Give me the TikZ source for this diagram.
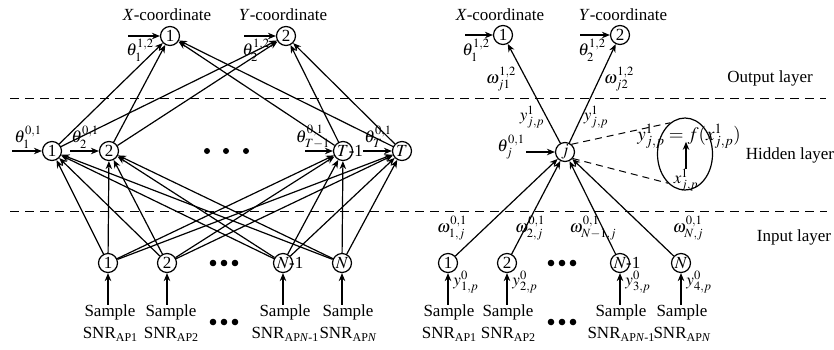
\documentclass[tikz,border=0pt]{standalone}
\usepackage{mathptmx}
\usepackage{fontspec}
\setmainfont{Liberation Serif}
\usetikzlibrary{arrows.meta,shapes.geometric}
\newcommand\apsub[1]{\raisebox{-0.35ex}{\fontsize{12}{12}\selectfont #1}}
\begin{document}
\begin{tikzpicture}[x=1pt,y=-1pt,
  every node/.style={font=\fontsize{17}{20}\selectfont},
  neuron/.style={circle,draw,line width=1.2pt,minimum size=19pt,inner sep=0pt},
  conn/.style={line width=1.2pt,-{Stealth[length=8pt,width=6.5pt]}},
  samp/.style={align=center,inner sep=0pt,font=\fontsize{17}{22}\selectfont},
  sep/.style={dashed,dash pattern=on 9pt off 6pt,line width=1pt},
  lbl/.style={inner sep=0pt},
  bigdot/.style={fill=black}]
\useasboundingbox (0,0) rectangle (834,349);

% dashed layer separators
\coordinate (d1a) at (10,98);  \coordinate (d1b) at (826,98);
\coordinate (d2a) at (10,211); \coordinate (d2b) at (827,211);
\draw[sep] (d1a) -- (d1b);
\draw[sep] (d2a) -- (d2b);

% ================= LEFT NETWORK =================
\node[neuron] (o1) at (170,36) {1};
\node[neuron] (o2) at (286,36) {2};
\node[lbl] at (167,15) {\textit{X}-coordinate};
\node[lbl] at (283,15) {\textit{Y}-coordinate};
\coordinate (bo1) at (128,36); \coordinate (bo2) at (244,36);
\draw[conn] (bo1) -- (o1);
\draw[conn] (bo2) -- (o2);
\node[lbl] at (140,50) {$\theta^{1,2}_1$};
\node[lbl] at (256,50) {$\theta^{1,2}_2$};

\node[neuron] (h1) at (52,151) {1};
\node[neuron] (h2) at (109,151) {2};
\node[neuron] (h3) at (343,151) {$T$\rlap{-1}};
\node[neuron] (h4) at (402,151) {$T$};
\foreach \x in {207,226,246} \fill[bigdot] (\x,151) circle (3pt);
\coordinate (bh1) at (12,151); \coordinate (bh2) at (70,151);
\coordinate (bh3) at (305,151); \coordinate (bh4) at (363,151);
\draw[conn] (bh1) -- (h1);
\draw[conn] (bh2) -- (h2);
\draw[conn] (bh3) -- (h3);
\draw[conn] (bh4) -- (h4);
\node[lbl] at (28,137) {$\theta^{0,1}_1$};
\node[lbl] at (85,137) {$\theta^{0,1}_2$};
\node[lbl] at (313,137) {$\theta^{0,1}_{T-1}$};
\node[lbl] at (378,137) {$\theta^{0,1}_T$};

\node[neuron] (i1) at (108,263) {1};
\node[neuron] (i2) at (167,263) {2};
\node[neuron] (i3) at (283,263) {$N$\rlap{-1}};
\node[neuron] (i4) at (342,263) {$N$};
\foreach \x in {213,224,235} \fill[bigdot] (\x,263) circle (3.3pt);

\node[samp] (s1) at (110,323) {Sample\\SNR\apsub{AP1}};
\node[samp] (s2) at (171,323) {Sample\\SNR\apsub{AP2}};
\node[samp] (s3) at (285,323) {Sample\\SNR\apsub{AP\textit{N}-1}};
\node[samp] (s4) at (348,323) {Sample\\SNR\apsub{AP\textit{N}}};
\foreach \x in {213,224,235} \fill[bigdot] (\x,322) circle (3.3pt);
\foreach \k in {1,2,3,4} \draw[conn] (s\k.north -| i\k) -- (i\k);

\foreach \a in {1,2,3,4} \foreach \b in {1,2,3,4} \draw[conn] (i\a) -- (h\b);
\foreach \a in {1,2,3,4} \foreach \b in {1,2} \draw[conn] (h\a) -- (o\b);

% ================= RIGHT NETWORK =================
\node[neuron] (ro1) at (503,35) {1};
\node[neuron] (ro2) at (620,35) {2};
\node[lbl] at (500,15) {\textit{X}-coordinate};
\node[lbl] at (623,15) {\textit{Y}-coordinate};
\coordinate (rbo1) at (465,35); \coordinate (rbo2) at (580,35);
\draw[conn] (rbo1) -- (ro1);
\draw[conn] (rbo2) -- (ro2);
\node[lbl] at (476,50) {$\theta^{1,2}_1$};
\node[lbl] at (592,50) {$\theta^{1,2}_2$};

\node[neuron] (j) at (565,152) {$j$};
\coordinate (bj) at (526,152);
\draw[conn] (bj) -- (j);
\node[lbl] at (511,147) {$\theta^{0,1}_j$};
\draw[conn] (j) -- (ro1);
\draw[conn] (j) -- (ro2);
\node[lbl] at (501,79) {$\omega^{1,2}_{j1}$};
\node[lbl] at (619,79) {$\omega^{1,2}_{j2}$};
\node[lbl] at (532,117) {$y^{1}_{j,p}$};
\node[lbl] at (596,117) {$y^{1}_{j,p}$};

\node[draw,ellipse,line width=1.2pt,minimum width=55pt,minimum height=72pt,inner sep=0pt] (ell) at (685,154) {};
\node[lbl,font=\fontsize{19}{21}\selectfont] (fx) at (689,136) {$y^{1}_{j,p}=f(x^{1}_{j,p})$};
\node[lbl] (xin) at (686,180) {$x^{1}_{j,p}$};
\draw[conn] (xin.north) -- ++(0,-27);
\draw[sep,dash pattern=on 7pt off 5pt] (j.50) -- (ell.115);
\draw[sep,dash pattern=on 7pt off 5pt] (j.-40) -- (ell.240);

\node[lbl] at (770,78) {Output layer};
\node[lbl] at (790,155) {Hidden layer};
\node[lbl] at (794,237) {Input layer};

\node[neuron] (ri1) at (448,263) {1};
\node[neuron] (ri2) at (507,263) {2};
\node[neuron] (ri3) at (620,263) {$N$\rlap{-1}};
\node[neuron] (ri4) at (681,263) {$N$};
\foreach \x in {551,562,573} \fill[bigdot] (\x,263) circle (3.3pt);
\foreach \k in {1,2,3,4} \draw[conn] (ri\k) -- (j);
\node[lbl] at (452,228) {$\omega^{0,1}_{1,j}$};
\node[lbl] at (530,228) {$\omega^{0,1}_{2,j}$};
\node[lbl] at (593,228) {$\omega^{0,1}_{N-1,j}$};
\node[lbl] at (688,228) {$\omega^{0,1}_{N,j}$};

\node[samp] (rs1) at (449,323) {Sample\\SNR\apsub{AP1}};
\node[samp] (rs2) at (508,323) {Sample\\SNR\apsub{AP2}};
\node[samp] (rs3) at (621,323) {Sample\\SNR\apsub{AP\textit{N}-1}};
\node[samp] (rs4) at (682,323) {Sample\\SNR\apsub{AP\textit{N}}};
\foreach \x in {551,562,573} \fill[bigdot] (\x,322) circle (3.3pt);
\foreach \k in {1,2,3,4} \draw[conn] (rs\k.north -| ri\k) -- (ri\k);
\node[lbl] at (466,282) {$y^{0}_{1,p}$};
\node[lbl] at (525,282) {$y^{0}_{2,p}$};
\node[lbl] at (638,282) {$y^{0}_{3,p}$};
\node[lbl] at (699,282) {$y^{0}_{4,p}$};
\end{tikzpicture}
\end{document}
